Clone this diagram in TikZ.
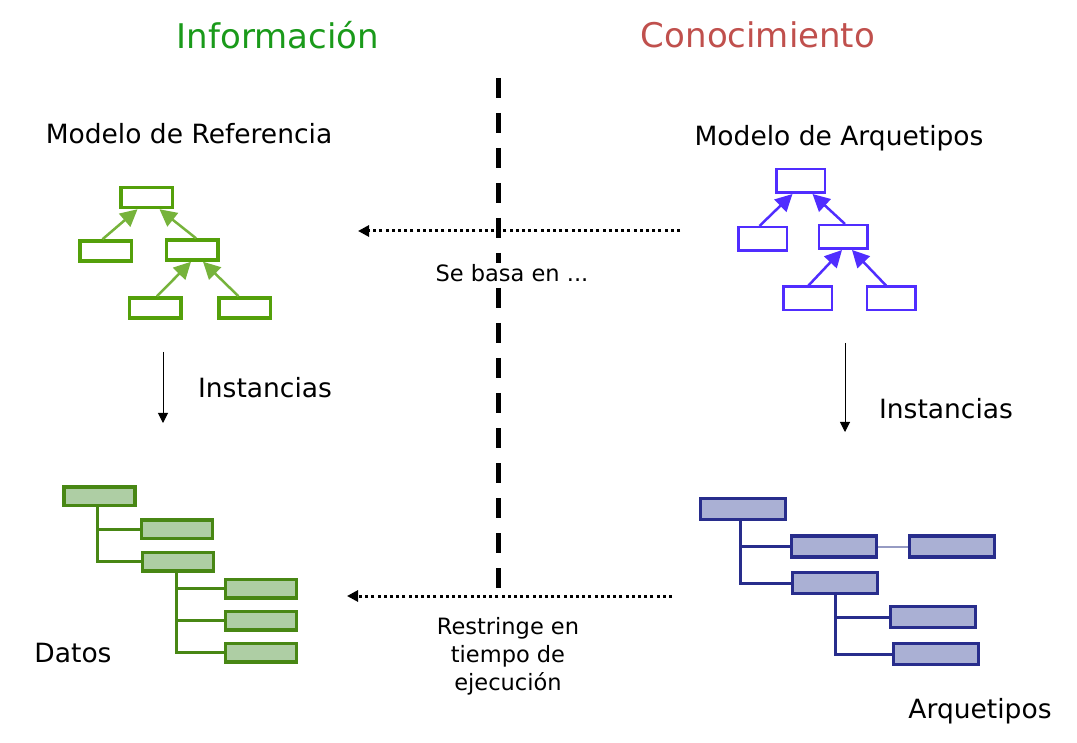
\documentclass[tikz,border=0pt]{standalone}
\usepackage{fontspec}
\setmainfont{DejaVu Sans}
\usetikzlibrary{arrows.meta,positioning}
\definecolor{infogreen}{RGB}{26,154,26}
\definecolor{conored}{RGB}{192,80,77}
\definecolor{refgreen}{RGB}{84,160,10}
\definecolor{datgreen}{RGB}{72,135,20}
\definecolor{datfill}{RGB}{174,206,164}
\definecolor{arqblue}{RGB}{80,45,255}
\definecolor{insblue}{RGB}{40,45,140}
\definecolor{insfill}{RGB}{170,176,212}
\definecolor{linkgray}{RGB}{150,155,195}

\begin{document}
\begin{tikzpicture}[x=1pt, y=-1pt,
    title/.style={font=\fontsize{34}{40}\selectfont},
    label/.style={font=\fontsize{26.5}{30}\selectfont},
    small/.style={font=\fontsize{22.5}{28}\selectfont, align=center, inner sep=1pt},
    refbox/.style={draw=refgreen, line width=3.5pt, minimum width=51.5pt, minimum height=20pt, inner sep=0pt},
    arqbox/.style={draw=arqblue, line width=2.5pt, minimum width=48.5pt, minimum height=23.5pt, inner sep=0pt},
    datbox/.style={draw=datgreen, fill=datfill, line width=3.5pt, minimum width=71pt, minimum height=18.5pt, inner sep=0pt},
    insbox/.style={draw=insblue, fill=insfill, line width=3.5pt, minimum width=85pt, minimum height=21pt, inner sep=0pt},
    refarrow/.style={draw=refgreen!80, line width=2.5pt, -{Triangle[length=17pt,width=17pt]}},
    arqarrow/.style={draw=arqblue, line width=2.5pt, -{Triangle[length=17pt,width=17pt]}},
    datline/.style={draw=datgreen, line width=3pt},
    insline/.style={draw=insblue, line width=3pt},
    dotarrow/.style={line width=3pt, dash pattern=on 3pt off 3.2pt, -{Triangle[length=11pt,width=11pt]}},
    instarrow/.style={line width=1pt, -{Triangle[length=10pt,width=10pt]}}
  ]
  \useasboundingbox (0,0) rectangle (1077,743);

  % titles
  \node[title, text=infogreen] (info) at (278,35) {Información};
  \node[title, text=conored] (cono) at (758,35) {Conocimiento};

  % divider
  \coordinate (dtop) at (498,78);
  \coordinate (dbot) at (498,596);
  \draw[line width=5pt, dash pattern=on 20pt off 15pt] (dtop) -- (dbot);

  % reference model
  \node[label] (mref) at (189,134) {Modelo de Referencia};
  \node[refbox] (r0) at (146.5,197.5) {};
  \node[refbox] (r1) at (105.5,251) {};
  \node[refbox] (r2) at (192,250) {};
  \node[refbox] (r3) at (155,308) {};
  \node[refbox] (r4) at (244.5,308) {};
  \draw[refarrow] ([xshift=-3pt]r1.north) -- ([xshift=-9pt]r0.south);
  \draw[refarrow] ([xshift=4pt]r2.north) -- ([xshift=13pt]r0.south);
  \draw[refarrow] ([xshift=2pt]r3.north) -- ([xshift=-1pt]r2.south);
  \draw[refarrow] ([xshift=-6pt]r4.north) -- ([xshift=11pt]r2.south);

  % archetype model
  \node[label] (marq) at (839,138) {Modelo de Arquetipos};
  \node[arqbox] (a0) at (800.5,181) {};
  \node[arqbox] (a1) at (762.5,239) {};
  \node[arqbox] (a2) at (843,237) {};
  \node[arqbox] (a3) at (807.5,298.5) {};
  \node[arqbox] (a4) at (891,298.5) {};
  \draw[arqarrow] ([xshift=-3pt]a1.north) -- ([xshift=-8pt]a0.south);
  \draw[arqarrow] ([xshift=2pt]a2.north) -- ([xshift=12pt]a0.south);
  \draw[arqarrow] ([xshift=1pt]a3.north) -- ([xshift=-1pt]a2.south);
  \draw[arqarrow] ([xshift=-5pt]a4.north) -- ([xshift=9pt]a2.south);

  % relations between the two sides
  \coordinate (basafrom) at (680,231);
  \coordinate (basato) at (358,231);
  \node[small, fill=white] (basa) at (512,273) {Se basa en ...};
  \draw[dotarrow] (basafrom) -- (basato);
  \coordinate (restrfrom) at (672,596);
  \coordinate (restrto) at (347,596);
  \draw[dotarrow] (restrfrom) -- (restrto);
  \node[small] (restr) at (508,656) {Restringe en\\tiempo de\\ejecución};

  % instances
  \coordinate (i1from) at (163,352);
  \coordinate (i1to) at (163,423);
  \draw[instarrow] (i1from) -- (i1to);
  \node[label] (inst1) at (265,388) {Instancias};
  \coordinate (i2from) at (845,343);
  \coordinate (i2to) at (845,432);
  \draw[instarrow] (i2from) -- (i2to);
  \node[label] (inst2) at (946,409) {Instancias};

  % data
  \node[datbox] (d0) at (99.5,496) {};
  \node[datbox] (d1) at (177,529) {};
  \node[datbox] (d2) at (178,561.5) {};
  \node[datbox] (d3) at (261,588.5) {};
  \node[datbox] (d4) at (261,620.5) {};
  \node[datbox] (d5) at (261,652.5) {};
  \draw[datline] ([xshift=-2.5pt]d0.south) |- (d1.west);
  \draw[datline] ([xshift=-2.5pt]d0.south) |- (d2.west);
  \draw[datline] ([xshift=-2pt]d2.south) |- (d3.west);
  \draw[datline] ([xshift=-2pt]d2.south) |- (d4.west);
  \draw[datline] ([xshift=-2pt]d2.south) |- (d5.west);
  \node[label] (datos) at (73,653) {Datos};

  % archetypes
  \node[insbox] (q0) at (743,509) {};
  \node[insbox] (q1) at (834,546.5) {};
  \node[insbox] (q2) at (952,546.5) {};
  \node[insbox] (q3) at (835,583) {};
  \node[insbox] (q4) at (933,617) {};
  \node[insbox] (q5) at (936,654) {};
  \draw[insline] ([xshift=-3pt]q0.south) |- (q1.west);
  \draw[insline] ([xshift=-3pt]q0.south) |- (q3.west);
  \draw[insline] (q3.south) |- (q4.west);
  \draw[insline] (q3.south) |- (q5.west);
  \draw[linkgray, line width=2pt] (q1.east) -- (q2.west);
  \node[label] (arq) at (980,711) {Arquetipos};
\end{tikzpicture}
\end{document}
